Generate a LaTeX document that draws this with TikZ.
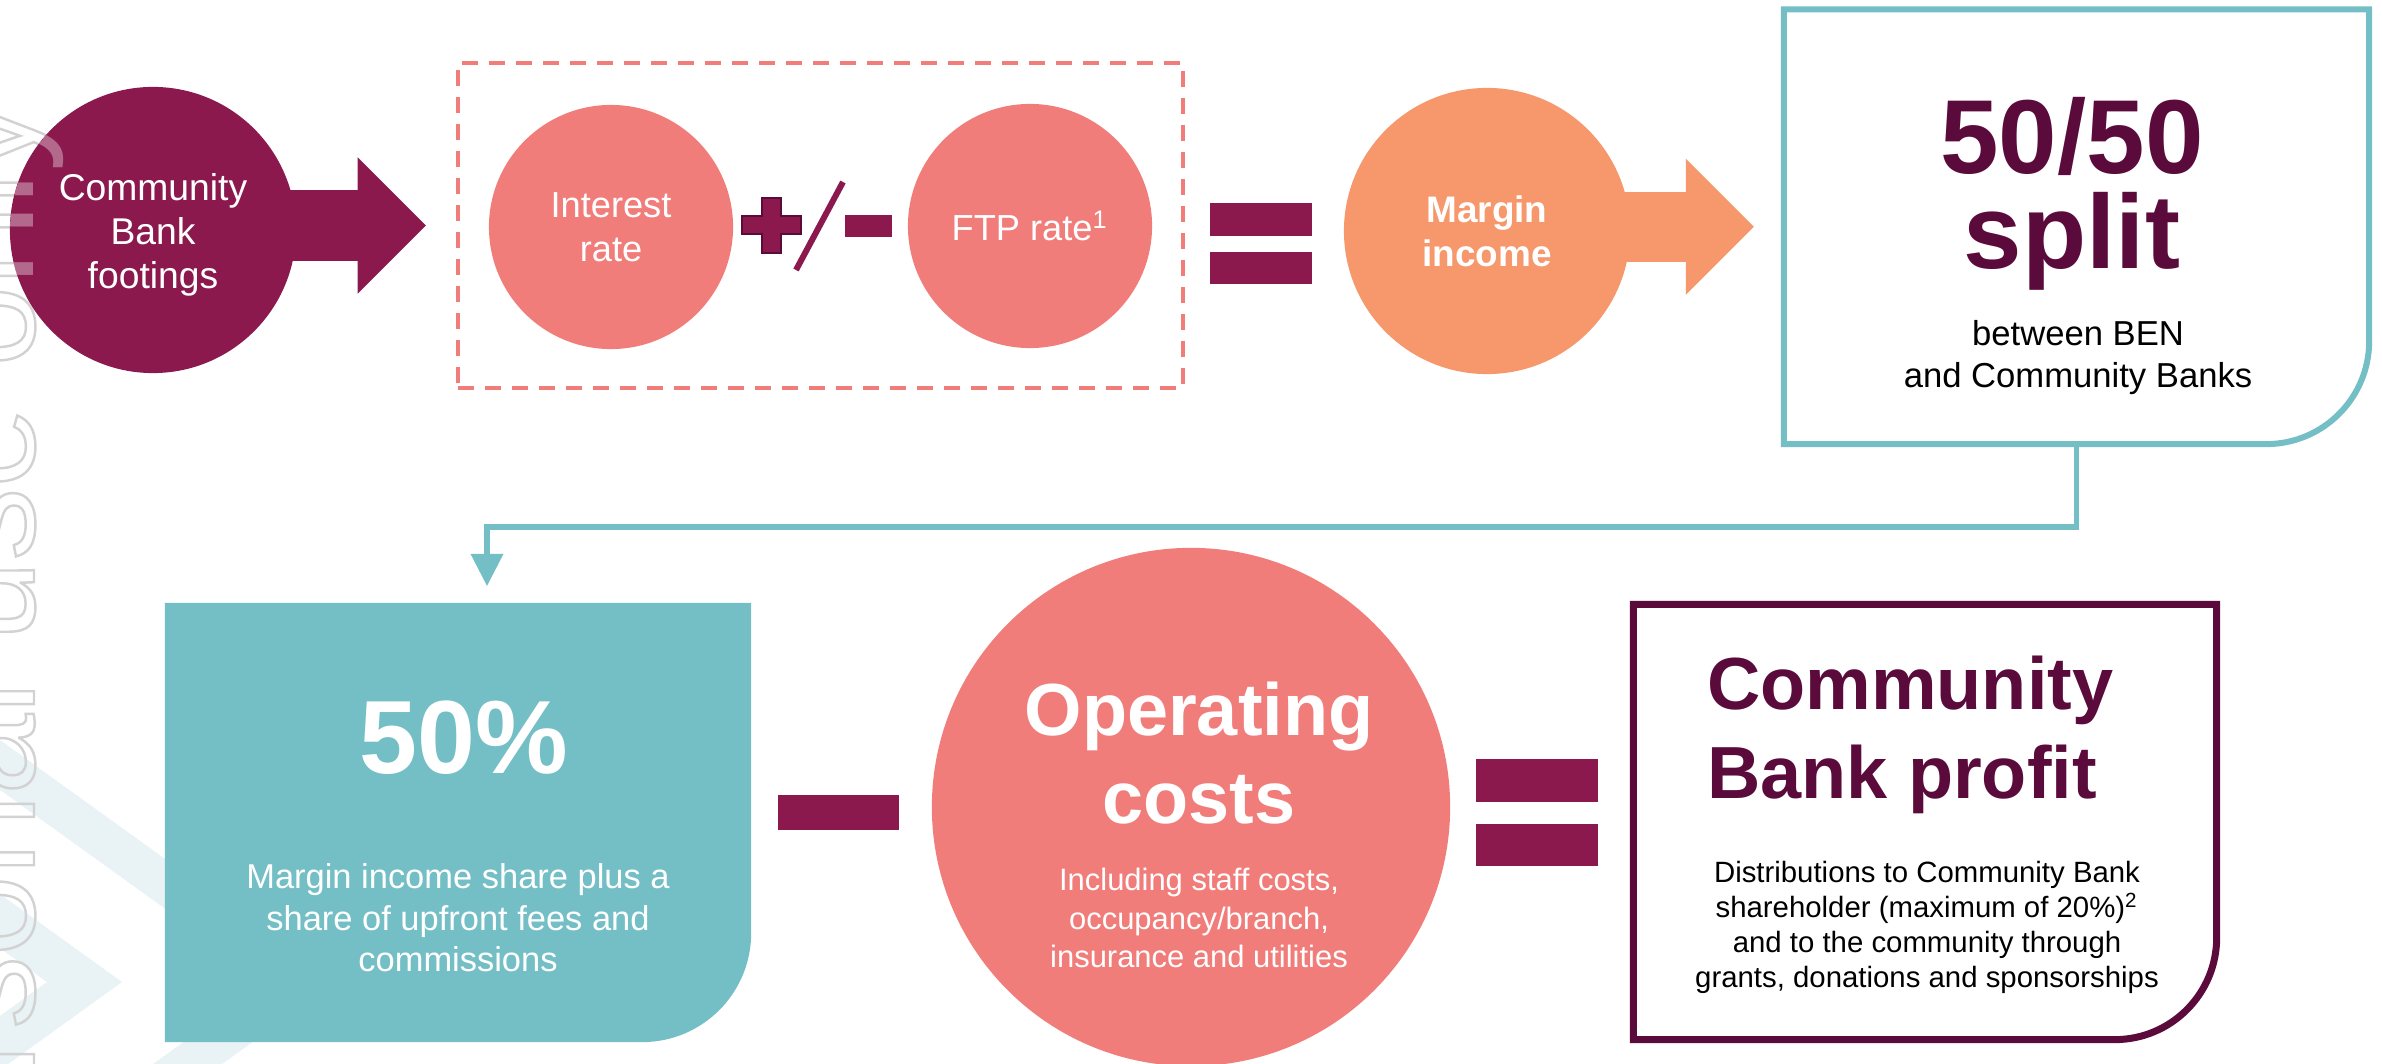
\documentclass[tikz,border=0pt]{standalone}
\usepackage{fontspec}
\setmainfont{Liberation Sans}
\usetikzlibrary{arrows.meta}
\pgfdeclarelayer{bg}
\pgfsetlayers{bg,main}
\definecolor{plum}{HTML}{8B194E}
\definecolor{plumdark}{HTML}{5B0B3B}
\definecolor{salmon}{HTML}{F17D7B}
\definecolor{apricot}{HTML}{F6976C}
\definecolor{tealc}{HTML}{74BFC6}
\definecolor{wmgrey}{HTML}{D2D2D2}
\definecolor{chev}{HTML}{E9F2F5}
\newcommand\fsz[2]{\fontsize{#1pt}{#2pt}\selectfont}
\newcommand\outlined[1]{\special{pdf:code 1 Tr 0.7 w}#1\special{pdf:code 0 Tr 0.398 w}}
\newcommand\onecorner[2]{(#1.north west) -- (#1.north east) -- ([yshift=#2cm]#1.south east) .. controls ([yshift=0.4477*#2cm]#1.south east) and ([xshift=-0.4477*#2cm]#1.south east) .. ([xshift=-#2cm]#1.south east) -- (#1.south west) -- cycle}
\begin{document}
\begin{tikzpicture}[x=0.01cm, y=-0.01cm,
  disc/.style={circle, inner sep=0pt, outer sep=0pt, align=center},
  lbl/.style={inner sep=0pt, outer sep=0pt, align=center},
  frame/.style={rectangle, inner sep=0pt, outer sep=0pt},
  bigarrow/.style={draw=#1, line width=0.70cm, -{Triangle[length=0.68cm, width=1.36cm, line width=0pt]}},
  conn/.style={draw=tealc, line width=0.055cm, -{Triangle[length=0.32cm, width=0.33cm, line width=0pt]}},
  wm/.style={rotate=90, anchor=base east, inner sep=0pt, outer sep=0pt, font=\fsz{41.3}{45}}
]
\useasboundingbox (0,0) rectangle (2382,1064);

% faint background chevrons and watermark
\begin{pgfonlayer}{bg}
  \begin{scope}
    \clip (0,0) rectangle (2382,1064);
    \fill[chev] (-200,750) -- (122,982) -- (-200,1214) -- (-200,1160) -- (47,982) -- (-200,804) -- cycle;
    \fill[chev] (-200,596) -- (336,982) -- (-200,1368) -- (-200,1318) -- (267,982) -- (-200,646) -- cycle;
  \end{scope}
  \node[wm, text=wmgrey] (wmark) at (34,100) {\outlined{For personal use only}};
\end{pgfonlayer}

% top row
\node[disc, fill=plum, minimum size=2.86cm] (footings) at (153,230) {};
\node[lbl, text=white, font=\fsz{10.6}{12.5}] (footingstxt) at (153,235) {Community\\Bank\\footings};
\node[frame, draw=salmon, line width=0.04cm, dash pattern=on 0.16cm off 0.11cm, minimum width=7.25cm, minimum height=3.25cm] (dashbox) at (820.5,225.5) {};
\node[disc, fill=salmon, minimum size=2.44cm, text=white, font=\fsz{10.3}{12.4}] (interest) at (611,227) {Interest\\rate};
\node[disc, fill=salmon, minimum size=2.44cm, text=white, font=\fsz{10.3}{12.4}] (ftp) at (1030,226) {FTP rate\textsuperscript{1}};
\node[disc, fill=apricot, minimum size=2.86cm, text=white, font=\fsz{10.5}{12.5}\bfseries] (margin) at (1487,231) {Margin\\income};

% plus / minus
\filldraw[fill=plum, draw=plumdark, line width=0.02cm] (762,198) -- (781,198) -- (781,216) -- (801,216) -- (801,234) -- (781,234) -- (781,253) -- (762,253) -- (762,234) -- (742,234) -- (742,216) -- (762,216) -- cycle;
\draw[plum, line width=0.06cm] (843,182) -- (796,270);
\fill[plum] (845,215) rectangle (892,237);
% equals (top)
\fill[plum] (1210,203) rectangle (1312,236);
\fill[plum] (1210,252) rectangle (1312,284);

% 50/50 split box
\node[frame, minimum width=5.85cm, minimum height=4.345cm] (splitbox) at (2076.5,226.75) {};
\draw[tealc, line width=0.06cm] \onecorner{splitbox}{1.03};
\node[lbl, text=plumdark, font=\fsz{29.9}{27}\bfseries] (splitttl) at (2072,194) {50/50\\split};
\node[lbl, text=black, font=\fsz{9.85}{11.7}] (splitsub) at (2078,357.5) {between BEN\\and Community Banks};

% arrows of the top row
\begin{pgfonlayer}{bg}
  \draw[bigarrow=plum] (footings.center |- dashbox.west) -- ([xshift=-0.32cm]dashbox.west);
  \draw[bigarrow=apricot] (margin.center |- splitbox.west) -- ([xshift=-0.30cm]splitbox.west);
\end{pgfonlayer}

% bottom row
\node[frame, minimum width=5.86cm, minimum height=4.39cm] (pctbox) at (458,822.5) {};
\fill[tealc] \onecorner{pctbox}{1.09};
\node[lbl, text=white, font=\fsz{29.6}{30}\bfseries] (pctttl) at (464,738) {50\%};
\node[lbl, text=white, font=\fsz{9.8}{11.8}] (pctsub) at (458,918) {Margin income share plus a\\share of upfront fees and\\commissions};

\fill[plum] (778,795) rectangle (899,830);

\node[disc, fill=salmon, minimum size=5.18cm] (opcost) at (1191,807) {};
\node[lbl, text=white, font=\fsz{21}{25}\bfseries] (opttl) at (1199,753) {Operating\\costs};
\node[lbl, text=white, font=\fsz{8.8}{11}] (opsub) at (1199,918) {Including staff costs,\\occupancy/branch,\\insurance and utilities};

\fill[plum] (1476,759) rectangle (1598,802);
\fill[plum] (1476,824) rectangle (1598,866);

\node[frame, minimum width=5.83cm, minimum height=4.35cm] (profitbox) at (1925,822) {};
\draw[plumdark, line width=0.07cm] \onecorner{profitbox}{1.02};
\node[lbl, align=left, anchor=west, text=plumdark, font=\fsz{21}{25.3}\bfseries] (profttl) at (1707,735) {Community\\Bank profit};
\node[lbl, text=black, font=\fsz{8.35}{9.9}] (profsub) at (1927,927.5) {Distributions to Community Bank\\shareholder (maximum of 20\%)\textsuperscript{2}\\and to the community through\\grants, donations and sponsorships};

% connector from the split box to the 50% box
\coordinate (into50) at ([xshift=0.29cm, yshift=0.17cm]pctbox.north);
\draw[conn] (splitbox.south) -- ++(0,83) -| (into50);

% watermark seen through the footings circle
\begin{scope}
  \clip (footings.center) circle[radius=1.43cm];
  \node[wm, text=white, text opacity=0.35] (wmark2) at (34,100) {For personal use only};
\end{scope}
\end{tikzpicture}
\end{document}
